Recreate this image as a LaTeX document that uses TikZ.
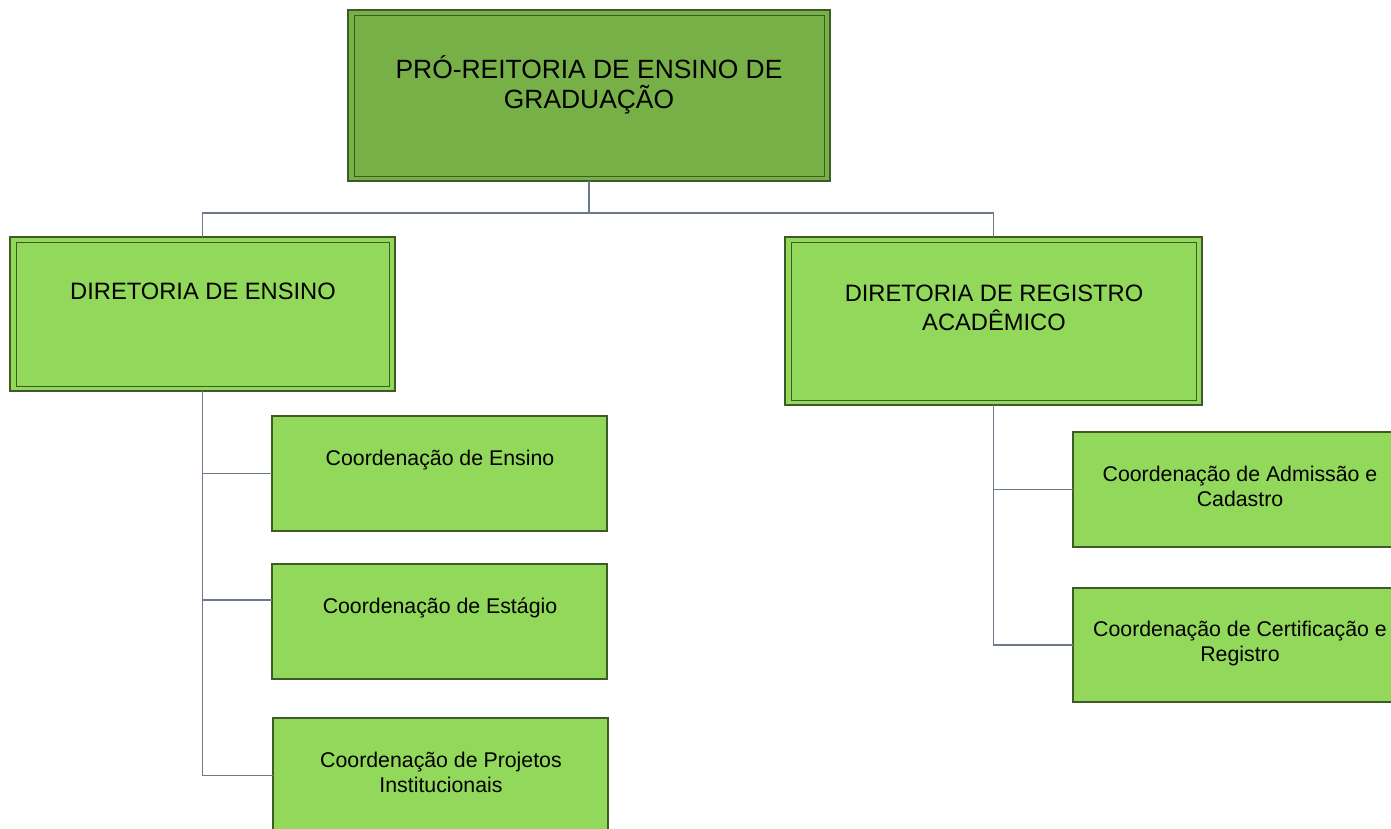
\documentclass[tikz,border=0pt]{standalone}
\usepackage{fontspec}
\setmainfont{Liberation Sans}
\usetikzlibrary{calc}
\definecolor{topfill}{HTML}{77B046}
\definecolor{subfill}{HTML}{92D85A}
\definecolor{boxline}{HTML}{3E5A26}
\definecolor{connline}{HTML}{6E7A8C}
\tikzset{
  unitbox/.style={draw=boxline, line width=1.1pt, inner sep=0pt, outer sep=0pt, anchor=north west},
  topbox/.style={unitbox, fill=topfill},
  subbox/.style={unitbox, fill=subfill},
  innerline/.style={draw=boxline, line width=0.9pt},
  conn/.style={draw=connline, line width=1.9pt},
  bigtxt/.style={align=center, anchor=base, inner sep=0pt, font=\fontsize{26.4}{30}\selectfont},
  midtxt/.style={align=center, anchor=base, inner sep=0pt, font=\fontsize{23.7}{28.5}\selectfont},
  smalltxt/.style={align=center, anchor=base, inner sep=0pt, font=\fontsize{21.3}{24.5}\selectfont}
}
\begin{document}
\begin{tikzpicture}[x=1pt,y=-1pt]
\useasboundingbox (0,0) rectangle (1391,829);
% boxes
\node[topbox, minimum width=482pt, minimum height=171pt] (pro) at (348,10) {};
\draw[innerline] ($(pro.north west)+(6,5)$) rectangle ($(pro.south east)+(-6,-5)$);
\node[subbox, minimum width=385pt, minimum height=154pt] (dens) at (10,237) {};
\draw[innerline] ($(dens.north west)+(6,5)$) rectangle ($(dens.south east)+(-6,-5)$);
\node[subbox, minimum width=417pt, minimum height=168pt] (dreg) at (785,237) {};
\draw[innerline] ($(dreg.north west)+(6,5)$) rectangle ($(dreg.south east)+(-6,-5)$);
\node[subbox, minimum width=335pt, minimum height=115pt] (c1) at (272,416) {};
\node[subbox, minimum width=335pt, minimum height=115pt] (c2) at (272,564) {};
\node[subbox, minimum width=335pt, minimum height=115pt] (c3) at (273,718) {};
\node[subbox, minimum width=334pt, minimum height=115pt] (c4) at (1073,432) {};
\node[subbox, minimum width=334pt, minimum height=114pt] (c5) at (1073,588) {};
% texts (base anchor = baseline of last line)
\node[bigtxt] (tpro) at (589,109) {PRÓ-REITORIA DE ENSINO DE\\GRADUAÇÃO};
\node[midtxt] (tdens) at (203,299) {DIRETORIA DE ENSINO};
\node[midtxt] (tdreg) at (994,330) {DIRETORIA DE REGISTRO\\ACADÊMICO};
\node[smalltxt] (tc1) at (440,465) {Coordenação de Ensino};
\node[smalltxt] (tc2) at (440,613) {Coordenação de Estágio};
\node[smalltxt] (tc3) at (441,792) {Coordenação de Projetos\\Institucionais};
\node[smalltxt] (tc4) at (1240,506) {Coordenação de Admissão e\\Cadastro};
\node[smalltxt] (tc5) at (1240,661) {Coordenação de Certificação e\\Registro};
% connectors
\coordinate (bar) at ($(pro.south)+(0,32)$);
\draw[conn] (pro.south) -- (bar) -| (dens.north);
\draw[conn] (bar) -| (dreg.north);
\coordinate (c2in) at ($(c2.north west)+(0,36)$);
\draw[conn] (dens.south) |- (c1.west);
\draw[conn] (dens.south) |- (c2in);
\draw[conn] (dens.south) |- (c3.west);
\draw[conn] (dreg.south) |- (c4.west);
\draw[conn] (dreg.south) |- (c5.west);
\end{tikzpicture}
\end{document}
